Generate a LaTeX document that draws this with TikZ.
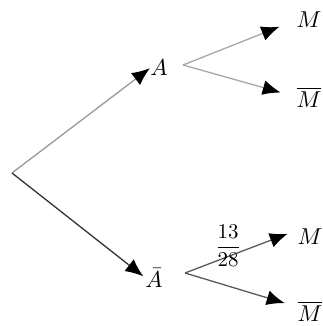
\documentclass[tikz,border=0pt]{standalone}
\usetikzlibrary{arrows.meta}
\begin{document}
\begin{tikzpicture}[x=1pt,y=-1pt,
  branch/.style={line width=1.3pt,-{Latex[length=18pt,width=15pt,black]}},
  lbl/.style={scale=2.3,transform shape,inner sep=0pt,anchor=base},
  frac/.style={scale=2.1,transform shape,inner sep=0pt}]
\useasboundingbox (0,0) rectangle (322,326);
\coordinate (root) at (12,173);
\node[lbl] (A) at (159,76) {$A$};
\node[lbl] (Ab) at (154,287) {$\bar{A}$};
\node[lbl] (M1) at (309,28) {$M$};
\node[lbl] (M1b) at (309,107) {$\overline{M}$};
\node[lbl] (M2) at (310,244) {$M$};
\node[lbl] (M2b) at (310,321) {$\overline{M}$};
\coordinate (As) at (183,65);
\coordinate (Abs) at (185,273);
\draw[branch,black!40] (root) -- (A.west);
\draw[branch,black!80,shorten >=2pt] (root) -- (Ab.west);
\draw[branch,black!35,shorten >=18pt] (As) -- (M1.west);
\draw[branch,black!35,shorten >=16pt] (As) -- (M1b.west);
\draw[branch,black!65,shorten >=10pt] (Abs) -- node[frac,text=black,pos=0.44,xshift=-3pt,yshift=4pt] {$\displaystyle\frac{13}{28}$} ([yshift=6pt]M2.west);
\draw[branch,black!65,shorten >=13pt] (Abs) -- ([yshift=4pt]M2b.west);
\end{tikzpicture}
\end{document}
